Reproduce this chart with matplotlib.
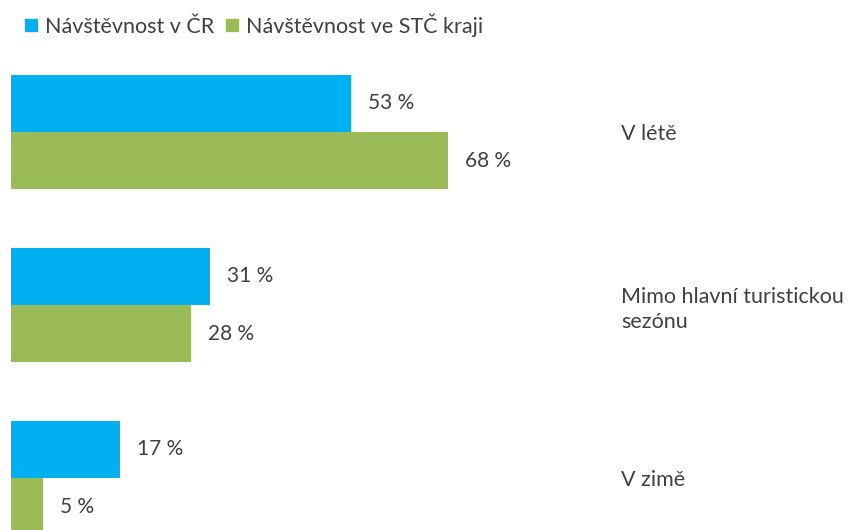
import matplotlib
matplotlib.use("Agg")
import matplotlib.pyplot as plt
from matplotlib.lines import Line2D
import numpy as np

categories = ["V létě", "Mimo hlavní turistickou\nsezónu", "V zimě"]
series_names = ["Návštěvnost v ČR", "Návštěvnost ve STČ kraji"]
cr_values = [53, 31, 17]
stc_values = [68, 28, 5]
colors = ["#00B0F0", "#9BBB59"]

plt.rcParams['font.family'] = ['Lato', 'DejaVu Sans']
W, H = 854, 530
fig = plt.figure(figsize=(W / 100, H / 100), dpi=100)
left_px, right_px, top_px = 11, 610, 60
ax = fig.add_axes([left_px / W, 0, (right_px - left_px) / W, (H - top_px) / H])

px_per_pct = 6.42
ax.set_xlim(0, (right_px - left_px) / px_per_pct)
ax.set_ylim(2.30, -0.416)

y = np.arange(len(categories))
h = 0.332
text_color = "#404040"
fs = 15
b1 = ax.barh(y - h / 2, cr_values, height=h, color=colors[0], label=series_names[0])
b2 = ax.barh(y + h / 2, stc_values, height=h, color=colors[1], label=series_names[1])
for bars, vals in ((b1, cr_values), (b2, stc_values)):
    for bar, v in zip(bars, vals):
        ax.annotate(f"{v} %", (bar.get_width(), bar.get_y() + bar.get_height() / 2),
                    xytext=(17, 0), textcoords="offset pixels", ha="left", va="center",
                    fontsize=fs, color=text_color)

ax.set_yticks(y)
ax.set_yticklabels(categories, fontsize=15.5, color=text_color, ha="left", linespacing=1.3)
ax.yaxis.tick_right()
ax.tick_params(axis="y", length=0, pad=8)
ax.set_xticks([])
for s in ax.spines.values():
    s.set_visible(False)

handles = [Line2D([], [], marker="s", linestyle="none", markersize=8, color=c) for c in colors]
fig.legend(handles, series_names, loc="center left", bbox_to_anchor=(26 / W, 1 - 25 / H),
           ncol=2, frameon=False, fontsize=15.5, handlelength=0.5, handletextpad=0.4,
           columnspacing=0.55, borderpad=0, borderaxespad=0, labelcolor=text_color)

fig.savefig("out.png", dpi=100)
